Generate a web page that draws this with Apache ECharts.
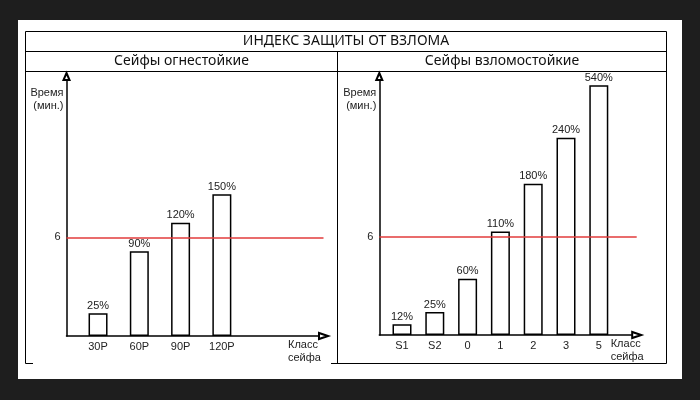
<!DOCTYPE html>
<html><head><meta charset="utf-8">
<script src="https://cdn.jsdelivr.net/npm/echarts@6/dist/echarts.min.js"></script>
<style>html,body{margin:0;padding:0;background:#1e1e1e}#c{width:700px;height:400px}</style>
</head><body><div id="c"></div><script>
// ---- data ----
const mainTitle = 'ИНДЕКС ЗАЩИТЫ ОТ ВЗЛОМА';
const leftTitle = 'Сейфы огнестойкие';
const rightTitle = 'Сейфы взломостойкие';
const fireCategories = ['30P', '60P', '90P', '120P'];
const fireMinutes = [1.38, 5.16, 6.90, 8.63];
const fireLabels = ['25%', '90%', '120%', '150%'];
const burglaryCategories = ['S1', 'S2', '0', '1', '2', '3', '5'];
const burglaryMinutes = [0.65, 1.40, 3.44, 6.32, 9.24, 12.05, 15.26];
const burglaryLabels = ['12%', '25%', '60%', '110%', '180%', '240%', '540%'];
const thresholdMinutes = 6;
const thresholdLabel = '6';
const yAxisName = 'Время\n(мин.)';
const xAxisName = 'Класс\nсейфа';
const yMax = 15.8;

// ---- styling / layout ----
const ARIAL = '"Liberation Sans", Arial, sans-serif';
const TITLEF = '"Noto Sans", "Open Sans", sans-serif';
const TXT = '#222';
const RED = '#e23b3b';

const panels = [
  {frame: {left: 66.5, top: 76.5, width: 257, height: 259.5},
   bars: {left: 77.4, top: 76.5, width: 165.1, height: 259.5},
   cats: fireCategories, vals: fireMinutes, labels: fireLabels, nameGap: -35.5},
  {frame: {left: 379.3, top: 76.5, width: 257.4, height: 258.5},
   bars: {left: 385.6, top: 76.5, width: 229.6, height: 258.5},
   cats: burglaryCategories, vals: burglaryMinutes, labels: burglaryLabels, nameGap: -26}
];

const grid = [], xAxis = [], yAxis = [], series = [];
panels.forEach(function (p, i) {
  const gf = grid.length;
  grid.push(Object.assign({outerBoundsMode: 'none', containLabel: false}, p.frame));
  grid.push(Object.assign({outerBoundsMode: 'none', containLabel: false}, p.bars));
  // frame axes (lines with hollow arrows)
  xAxis.push({
    gridIndex: gf, type: 'value', min: 0, max: 1,
    axisLine: {show: true, onZero: false, symbol: ['none', 'emptyTriangle'], symbolSize: [6, 9],
      lineStyle: {color: '#000', width: 1.5}},
    axisTick: {show: false}, axisLabel: {show: false}, splitLine: {show: false},
    name: xAxisName, nameLocation: 'end', nameGap: p.nameGap, nameMoveOverlap: false,
    nameTextStyle: {align: 'left', verticalAlign: 'top', lineHeight: 12.5, padding: [3, 0, 0, 0],
      color: TXT, fontSize: 11, fontFamily: ARIAL}
  });
  yAxis.push({
    gridIndex: gf, type: 'value', min: 0, max: yMax,
    axisLine: {show: true, onZero: false, symbol: ['none', 'emptyTriangle'], symbolSize: [6, 7],
      lineStyle: {color: '#000', width: 1.5}},
    axisTick: {show: false}, axisLabel: {show: false}, splitLine: {show: false},
    name: yAxisName, nameLocation: 'end', nameGap: -10, nameMoveOverlap: false,
    nameTextStyle: {align: 'right', verticalAlign: 'top', lineHeight: 13, padding: [0, 3, 0, 0],
      color: TXT, fontSize: 11, fontFamily: ARIAL}
  });
  // bar axes
  xAxis.push({
    gridIndex: gf + 1, type: 'category', data: p.cats, boundaryGap: true,
    axisLine: {show: false}, axisTick: {show: false}, splitLine: {show: false},
    axisLabel: {margin: 5, color: TXT, fontSize: 11, fontFamily: ARIAL}
  });
  yAxis.push({gridIndex: gf + 1, type: 'value', min: 0, max: yMax, show: false});
  series.push({
    type: 'line', xAxisIndex: xAxis.length - 2, yAxisIndex: yAxis.length - 2, data: [],
    markLine: {
      silent: true, symbol: ['none', 'none'], animation: false,
      lineStyle: {color: RED, width: 1.5, type: 'solid'},
      label: {position: 'start', formatter: thresholdLabel, color: TXT, fontSize: 11,
        fontFamily: ARIAL, distance: 6},
      data: [{yAxis: thresholdMinutes}]
    }
  });
  series.push({
    type: 'bar', xAxisIndex: xAxis.length - 1, yAxisIndex: yAxis.length - 1,
    data: p.vals, barWidth: 19,
    itemStyle: {color: '#fff', borderColor: '#000', borderWidth: 1.5},
    label: {show: true, position: 'top', distance: 2, color: TXT, fontSize: 11, fontFamily: ARIAL,
      formatter: function (q) { return p.labels[q.dataIndex]; }}
  });
});

function hline(x1, x2, y) { return {type: 'line', shape: {x1: x1, y1: y, x2: x2, y2: y}, style: {stroke: '#000', lineWidth: 1}, silent: true}; }
function vline(x, y1, y2) { return {type: 'line', shape: {x1: x, y1: y1, x2: x, y2: y2}, style: {stroke: '#000', lineWidth: 1}, silent: true}; }
function txt(s, x, y, size) {
  return {type: 'text', x: x, y: y, silent: true,
    style: {text: s, fill: '#111', font: size + 'px ' + TITLEF, align: 'center', verticalAlign: 'middle'}};
}

const graphic = [
  {type: 'rect', shape: {x: 18, y: 20, width: 664, height: 359}, style: {fill: '#fff'}, silent: true, z: -10},
  hline(25.5, 666.5, 31.5), hline(25.5, 666.5, 51.5), hline(25.5, 666.5, 71.5),
  vline(25.5, 31.5, 363.5), vline(666.5, 31.5, 363.5), vline(337.5, 51.5, 363.5),
  hline(25.5, 33, 363.5), hline(331, 666.5, 363.5),
  txt(mainTitle, 346, 41.5, 14), txt(leftTitle, 181.5, 61.5, 14), txt(rightTitle, 502, 61.5, 14)
];

const chart = echarts.init(document.getElementById('c'), null, {renderer: 'canvas'});
chart.setOption({
  backgroundColor: '#1e1e1e',
  animation: false,
  grid: grid, xAxis: xAxis, yAxis: yAxis, series: series, graphic: graphic
});
</script></body></html>
